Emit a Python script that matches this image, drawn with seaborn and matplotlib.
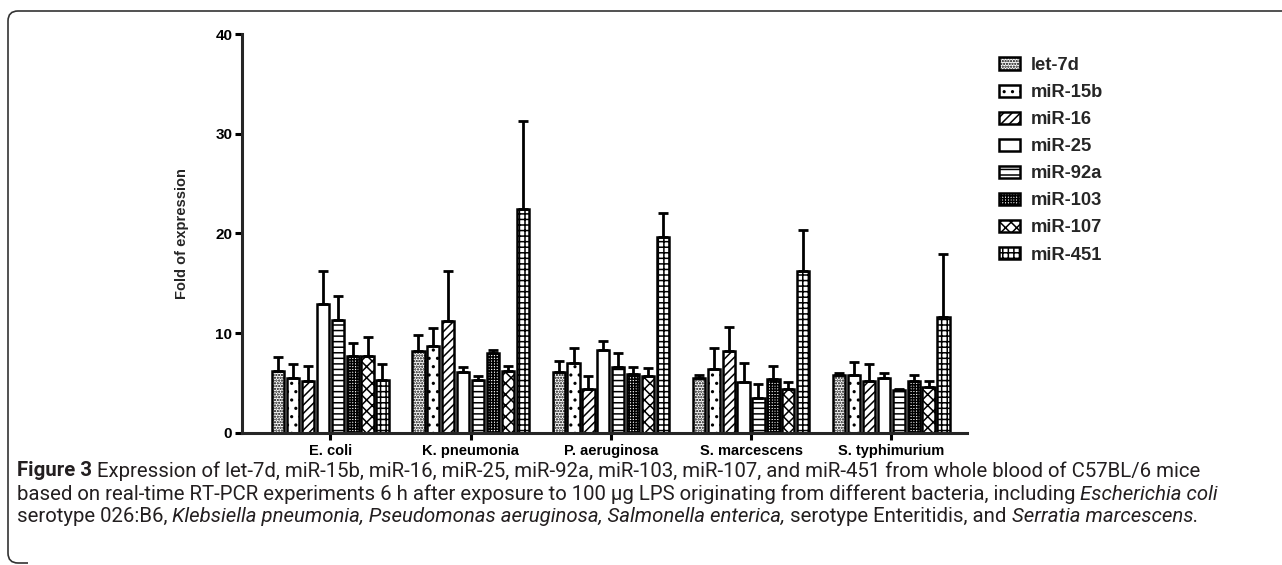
import numpy as np
import pandas as pd
import seaborn as sns
import matplotlib
matplotlib.use("Agg")
import matplotlib.pyplot as plt
from matplotlib.patches import Patch, PathPatch
from matplotlib.path import Path

# ---------------- data ----------------
bacteria = ["E. coli", "K. pneumonia", "P. aeruginosa", "S. marcescens", "S. typhimurium"]
mirnas = ["let-7d", "miR-15b", "miR-16", "miR-25", "miR-92a", "miR-103", "miR-107", "miR-451"]

let7d = [6.25, 8.25, 6.15, 5.5, 5.8]
miR15b = [5.5, 8.7, 7.0, 6.4, 5.8]
miR16 = [5.25, 11.2, 4.4, 8.25, 5.25]
miR25 = [12.9, 6.15, 8.3, 5.15, 5.5]
miR92a = [11.35, 5.3, 6.6, 3.5, 4.35]
miR103 = [7.7, 8.0, 5.9, 5.4, 5.2]
miR107 = [7.7, 6.2, 5.7, 4.4, 4.65]
miR451 = [5.3, 22.5, 19.6, 16.2, 11.65]

# upper error-bar ends (mean + SEM)
let7d_top = [7.6, 9.8, 7.2, 5.8, 6.05]
miR15b_top = [6.9, 10.5, 8.5, 8.5, 7.1]
miR16_top = [6.7, 16.2, 5.7, 10.6, 6.9]
miR25_top = [16.25, 6.6, 9.25, 7.0, 6.0]
miR92a_top = [13.75, 5.75, 8.05, 4.9, 4.45]
miR103_top = [9.0, 8.3, 6.6, 6.7, 5.8]
miR107_top = [9.6, 6.7, 6.5, 5.1, 5.2]
miR451_top = [6.9, 31.3, 22.1, 20.4, 17.9]

means = [let7d, miR15b, miR16, miR25, miR92a, miR103, miR107, miR451]
tops = [let7d_top, miR15b_top, miR16_top, miR25_top, miR92a_top, miR103_top, miR107_top, miR451_top]

hatches = ["......", "..", "////", "", "---", "++++++", "xxx", "+++"]

rows = []
for m, vals in zip(mirnas, means):
    for b, v in zip(bacteria, vals):
        rows.append({"bacteria": b, "miRNA": m, "fold": v})
df = pd.DataFrame(rows)

# ---------------- style ----------------
sns.set_theme(style="ticks")
plt.rcParams["font.family"] = ["Liberation Sans", "DejaVu Sans"]
plt.rcParams["hatch.linewidth"] = 1.1
plt.rcParams["hatch.color"] = "black"

W, H = 1282, 565
fig = plt.figure(figsize=(W / 100, H / 100), dpi=100)
ax = fig.add_axes([242 / W, (H - 433) / H, (967 - 242) / W, (433 - 34) / H])

sns.barplot(data=df, x="bacteria", y="fold", hue="miRNA", order=bacteria,
            hue_order=mirnas, palette=["white"] * len(mirnas), errorbar=None,
            width=0.85, gap=0.18, edgecolor="black", linewidth=1.8,
            legend=False, ax=ax)

for cont, h, tp, mv in zip(ax.containers, hatches, tops, means):
    xs = []
    for bar in cont:
        bar.set_hatch(h)
        bar.set_edgecolor("black")
        xs.append(bar.get_x() + bar.get_width() / 2)
    lower = np.zeros(len(mv))
    upper = np.array(tp) - np.array(mv)
    ax.errorbar(xs, mv, yerr=[lower, upper], fmt="none", ecolor="black",
                elinewidth=2.0, capsize=3.5, capthick=2.0, zorder=1)

ax.set_ylim(0, 40)
ax.set_yticks([0, 10, 20, 30, 40])
ax.set_xlim(-0.63, 4.54)
ax.set_xlabel("")
ax.set_ylabel("Fold of expression", fontsize=10.5, fontweight="bold", labelpad=19)
sns.despine(ax=ax)
for s in ["left", "bottom"]:
    ax.spines[s].set_linewidth(2.2)
ax.tick_params(axis="both", direction="out", length=5, width=2.2, color="black")
ax.tick_params(axis="y", labelsize=11, pad=2)
ax.tick_params(axis="x", labelsize=10.5, pad=3)
for lab in ax.get_xticklabels() + ax.get_yticklabels():
    lab.set_fontweight("bold")
    lab.set_color("black")

handles = [Patch(facecolor="white", edgecolor="black", hatch=h, linewidth=1.8, label=m)
           for m, h in zip(mirnas, hatches)]
fig.legend(handles=handles, loc="upper left", bbox_to_anchor=(999 / W, 1 - 57 / H),
           frameon=False, prop={"weight": "bold", "size": 13.2},
           handlelength=1.15, handleheight=0.65, handletextpad=0.6, labelspacing=0.55,
           borderaxespad=0, borderpad=0)

# ---------------- caption ----------------
cap_color = "#231f20"
cap_family = ["Roboto", "DejaVu Sans"]
lines = [
    [("Figure 3", "bold", "normal"),
     (" Expression of let-7d, miR-15b, miR-16, miR-25, miR-92a, miR-103, miR-107, and miR-451 from whole blood of C57BL/6 mice", "normal", "normal")],
    [("based on real-time RT-PCR experiments 6 h after exposure to 100 \u00b5g LPS originating from different bacteria, including ", "normal", "normal"),
     ("Escherichia coli", "normal", "italic")],
    [("serotype 026:B6, ", "normal", "normal"),
     ("Klebsiella pneumonia, Pseudomonas aeruginosa, Salmonella enterica,", "normal", "italic"),
     (" serotype Enteritidis, and ", "normal", "normal"),
     ("Serratia marcescens.", "normal", "italic")],
]
line_y = [471, 494, 517]
x0 = 17
target_w = 1198 - 17

fig.canvas.draw()
renderer = fig.canvas.get_renderer()


def draw_line(segs, y, size):
    x = x0
    arts = []
    for txt, wt, st in segs:
        t = fig.text(x / W, 1 - y / H, txt, fontsize=size, fontweight=wt, fontstyle=st,
                     family=cap_family, color=cap_color, va="center", ha="left")
        bb = t.get_window_extent(renderer=renderer)
        x += bb.width
        arts.append(t)
    return x - x0, arts


# fit font size so that the first caption line spans the reference width
w, arts = draw_line(lines[0], line_y[0], 12)
for a in arts:
    a.remove()
size = 12 * target_w / w
for segs, y in zip(lines, line_y):
    draw_line(segs, y, size)

# ---------------- rounded frame (left bracket) ----------------
r = 10
pts = [(W, 11), (8 + r, 11), (8, 11), (8, 11 + r), (8, 563 - r), (8, 563), (8 + r, 563), (8 + 2 * r, 563)]
codes = [Path.MOVETO, Path.LINETO, Path.CURVE3, Path.CURVE3, Path.LINETO, Path.CURVE3, Path.CURVE3, Path.LINETO]
verts = [(px / W, 1 - py / H) for px, py in pts]
frame = PathPatch(Path(verts, codes), transform=fig.transFigure, fill=False,
                  edgecolor="#333333", linewidth=1.2)
fig.add_artist(frame)

fig.savefig("out.png", dpi=100)
